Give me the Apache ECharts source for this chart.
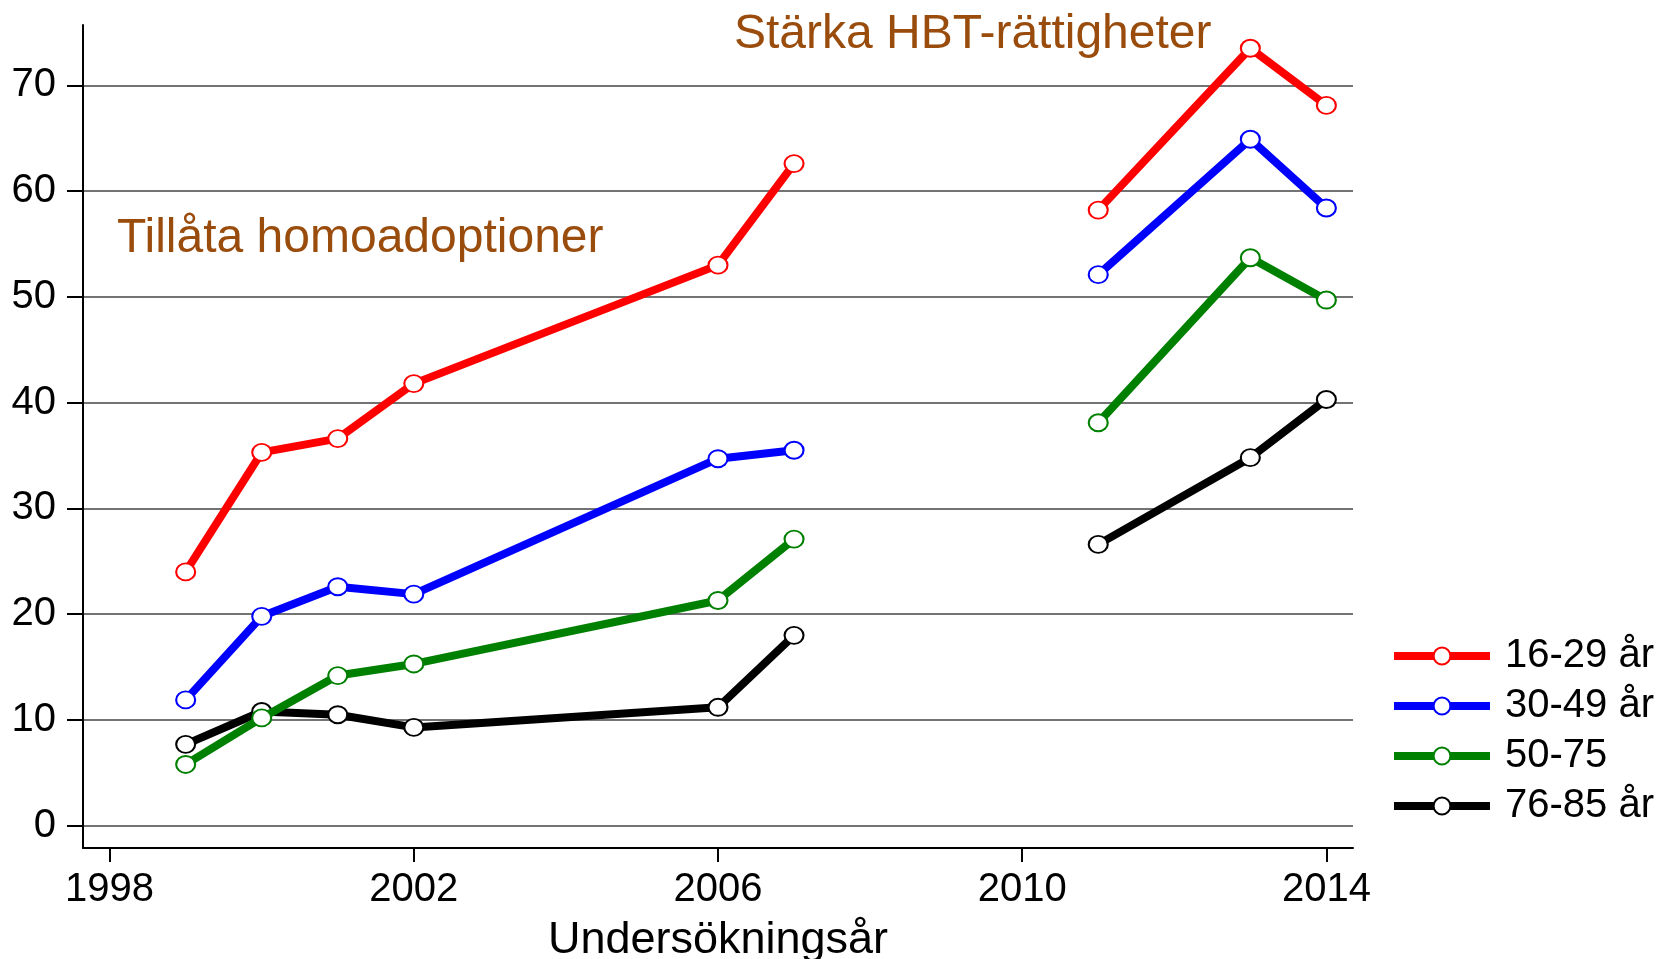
<!DOCTYPE html>
<html>
<head>
<meta charset="utf-8">
<script src="https://cdn.jsdelivr.net/npm/echarts@6/dist/echarts.min.js"></script>
<style>
  html, body { margin: 0; padding: 0; background: #fff; }
  #chart { width: 1664px; height: 959px; }
</style>
</head>
<body>
<div id="chart"></div>
<script>
  // survey years (2009 = no survey, breaks the lines)
  const years = [1999, 2000, 2001, 2002, 2006, 2007, 2009, 2011, 2013, 2014];
  const age16_29 = [24.0, 35.3, 36.6, 41.8, 53.0, 62.6, null, 58.2, 73.5, 68.1];
  const age30_49 = [11.9, 19.8, 22.6, 21.9, 34.7, 35.5, null, 52.1, 64.9, 58.4];
  const age50_75 = [5.8, 10.2, 14.2, 15.3, 21.3, 27.1, null, 38.1, 53.7, 49.7];
  const age76_85 = [7.7, 10.8, 10.5, 9.3, 11.2, 18.0, null, 26.6, 34.8, 40.3];

  const groupNames = ['16-29 år', '30-49 år', '50-75', '76-85 år'];
  const groupColors = ['#ff0000', '#0000ff', '#008000', '#000000'];
  const yTicks = [0, 10, 20, 30, 40, 50, 60, 70];
  const xTicks = [1998, 2002, 2006, 2010, 2014];
  const annotations = ['Tillåta homoadoptioner', 'Stärka HBT-rättigheter'];

  const font = 'Liberation Sans, Arial, sans-serif';
  const brown = '#994c0c';

  const toData = (vals) => years.map((y, i) => [y, vals[i] === null ? '-' : vals[i]]);

  const allValues = [age16_29, age30_49, age50_75, age76_85];
  const series = allValues.map((vals, i) => ({
    name: groupNames[i],
    type: 'line',
    data: toData(vals),
    connectNulls: false,
    symbol: 'emptyCircle',
    symbolSize: [19, 17],
    lineStyle: { color: groupColors[i], width: 8 },
    itemStyle: { color: groupColors[i], borderColor: groupColors[i], borderWidth: 3.5 },
    emphasis: { disabled: true },
    z: 10 - i,
  }));

  const chart = echarts.init(document.getElementById('chart'), null, { renderer: 'canvas' });
  chart.setOption({
    animation: false,
    backgroundColor: '#fff',
    textStyle: { fontFamily: font },
    title: [
      {
        text: annotations[0],
        left: 112, top: 210,
        textStyle: { fontFamily: font, fontSize: 48, fontWeight: 'normal', color: brown },
      },
      {
        text: annotations[1],
        left: 729, top: 6,
        textStyle: { fontFamily: font, fontSize: 48, fontWeight: 'normal', color: brown },
      },
    ],
    grid: { left: 83, right: 311, top: 25, bottom: 111, containLabel: false, outerBoundsMode: 'none' },
    xAxis: {
      type: 'value',
      min: 1997.65,
      max: 2014.35,
      name: 'Undersökningsår',
      nameLocation: 'middle',
      nameGap: 70,
      nameTextStyle: { fontFamily: font, fontSize: 45, color: '#000' },
      axisLine: { show: true, onZero: false, lineStyle: { color: '#000', width: 2 } },
      axisTick: { show: true, inside: false, length: 14, customValues: xTicks, lineStyle: { color: '#000', width: 2 } },
      axisLabel: { customValues: xTicks, margin: 22, fontFamily: font, fontSize: 40, color: '#000', formatter: (v) => String(v) },
      splitLine: { show: false },
    },
    yAxis: {
      type: 'value',
      min: -2.1,
      max: 75.7,
      axisLine: { show: true, onZero: false, lineStyle: { color: '#000', width: 2 } },
      axisTick: { show: true, inside: false, length: 16, customValues: yTicks, lineStyle: { color: '#000', width: 2 } },
      axisLabel: { customValues: yTicks, margin: 27, fontFamily: font, fontSize: 40, color: '#000' },
      splitLine: { show: true, lineStyle: { color: '#444', width: 1.5 } },
    },
    legend: {
      orient: 'vertical',
      left: 1385,
      top: 631,
      itemWidth: 96,
      itemHeight: 21,
      itemGap: 10,
      data: groupNames,
      lineStyle: { width: 8 },
      textStyle: { fontFamily: font, fontSize: 40, color: '#000', padding: [0, 0, 0, 10] },
    },
    series: series,
  });
</script>
</body>
</html>
